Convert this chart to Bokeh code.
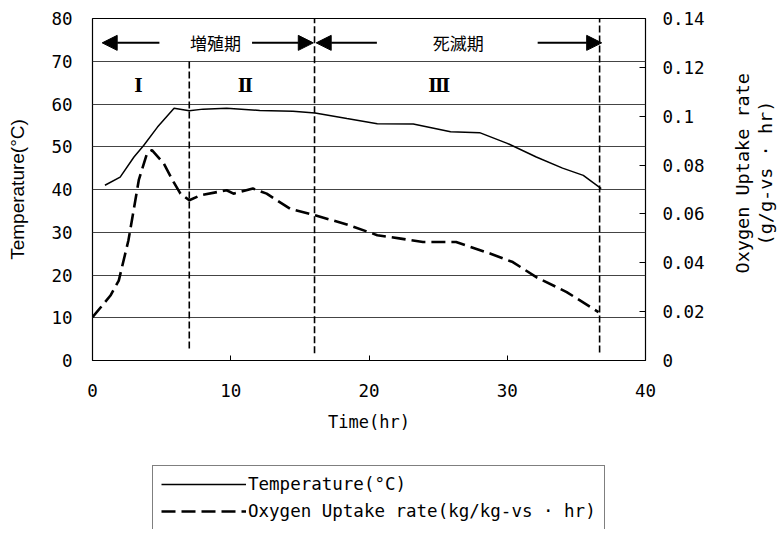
from bokeh.plotting import figure
from bokeh.layouts import column, row
from bokeh.models import (Range1d, LinearAxis, FixedTicker, CustomJSTickFormatter,
                          Arrow, NormalHead, Legend, LegendItem, Title)
from bokeh.core.properties import value
from bokeh.embed import file_html
from bokeh.resources import INLINE

# ---------------- data ----------------
time_temp = [0.9, 2.0, 3.0, 3.7, 4.7, 5.9, 7.0, 8.0, 9.7, 12.1, 14.5, 16.1, 18.4,
             20.6, 23.2, 25.9, 28.0, 30.0, 32.1, 34.0, 35.5, 36.8]
temperature = [41.0, 42.9, 47.6, 50.3, 54.6, 59.0, 58.4, 58.8, 59.0, 58.5, 58.3, 57.9,
               56.6, 55.4, 55.3, 53.5, 53.3, 50.8, 47.6, 45.0, 43.3, 40.2]

time_oxy = [0.0, 1.3, 1.9, 2.6, 3.1, 3.35, 3.95, 4.3, 5.15, 5.85, 6.36, 7.0, 7.8, 9.7,
            10.2, 11.6, 12.6, 14.3, 16.1, 18.6, 20.6, 22.3, 23.9, 26.3, 28.75, 30.4,
            32.1, 34.3, 36.6]
oxygen_rate = [0.0177, 0.0266, 0.0327, 0.0492, 0.0656, 0.0739, 0.0849, 0.0861, 0.0807,
               0.0732, 0.0683, 0.0656, 0.0676, 0.0697, 0.0683, 0.0704, 0.0683, 0.0621,
               0.0595, 0.0553, 0.0513, 0.0499, 0.0485, 0.0485, 0.0438, 0.0403, 0.0341,
               0.0280, 0.0198]

phase_x = [7.0, 16.06, 36.68]
phase_top = [70.3, 80.0, 80.0]
phase_bottom = [2.8, 1.7, 1.9]

period_names = ["増殖期", "死滅期"]
period_x = [8.9, 26.45]
period_y = [74.3, 74.3]

arrow_x_start = [4.84, 11.54, 20.57, 32.2]
arrow_x_end = [0.7, 15.97, 16.18, 36.83]
arrow_y = 74.3

stage_names = ["Ⅰ", "Ⅱ", "Ⅲ"]
stage_x = [3.32, 11.05, 25.07]
stage_y = [64.4, 64.4, 64.4]

temp_ticks = [0, 10, 20, 30, 40, 50, 60, 70, 80]
oxy_ticks = [0, 0.02, 0.04, 0.06, 0.08, 0.1, 0.12, 0.14]
time_ticks = [0, 10, 20, 30, 40]

right_title_lines = ["Oxygen Uptake rate", "(g/g-vs · hr)"]
legend_labels = ["Temperature(°C)", "Oxygen Uptake rate(kg/kg-vs · hr)"]

MONO = "DejaVu Sans Mono"

# ---------------- main figure ----------------
p = figure(width=707, height=440, x_range=Range1d(0, 40), y_range=Range1d(0, 80),
           output_backend="svg", toolbar_location=None,
           min_border_left=92, min_border_right=61, min_border_top=18,
           min_border_bottom=80, background_fill_color="white",
           border_fill_color="white")
p.outline_line_color = "black"
p.outline_line_width = 1.2

p.xgrid.visible = False
p.ygrid.ticker = FixedTicker(ticks=temp_ticks)
p.ygrid.grid_line_color = "#444444"
p.ygrid.grid_line_width = 1

# left axis
la = p.yaxis[0]
la.ticker = FixedTicker(ticks=temp_ticks)
la.axis_line_color = None
la.major_tick_in = 0
la.major_tick_out = 0
la.minor_tick_line_color = None
la.major_label_text_font = MONO
la.major_label_text_font_size = "17.5px"
la.major_label_text_color = "black"
la.major_label_standoff = 20
la.axis_label = "Temperature(°C)"
la.axis_label_text_font = "Liberation Sans"
la.axis_label_text_font_style = "normal"
la.axis_label_text_font_size = "19px"
la.axis_label_text_color = "black"
la.axis_label_standoff = 20

# bottom axis
ba = p.xaxis[0]
ba.ticker = FixedTicker(ticks=time_ticks)
ba.axis_line_color = None
ba.major_tick_in = 5
ba.major_tick_out = 0
ba.major_tick_line_color = "black"
ba.minor_tick_line_color = None
ba.major_label_text_font = MONO
ba.major_label_text_font_size = "17.5px"
ba.major_label_text_color = "black"
ba.major_label_standoff = 23
ba.axis_label = "Time(hr)"
ba.axis_label_text_font = MONO
ba.axis_label_text_font_style = "normal"
ba.axis_label_text_font_size = "17px"
ba.axis_label_text_color = "black"
ba.axis_label_standoff = 12

# right axis (ticks and tick labels)
p.extra_y_ranges = {"oxy": Range1d(0, 0.14)}
ra = LinearAxis(y_range_name="oxy", ticker=FixedTicker(ticks=oxy_ticks))
ra.formatter = CustomJSTickFormatter(
    code=r"var s = tick.toFixed(2); if (s.indexOf('.') >= 0) { s = s.replace(/0+$/, ''); s = s.replace(/\.$/, ''); } return s;")
ra.axis_line_color = None
ra.major_tick_in = 6
ra.major_tick_out = 0
ra.major_tick_line_color = "black"
ra.minor_tick_line_color = None
ra.major_label_text_font = MONO
ra.major_label_text_font_size = "17.5px"
ra.major_label_text_color = "black"
ra.major_label_standoff = 17
p.add_layout(ra, "right")

# ---------------- glyphs ----------------
r_temp = p.line(time_temp, temperature, line_color="black", line_width=1.5)
r_oxy = p.line(time_oxy, oxygen_rate, y_range_name="oxy", line_color="black",
               line_width=2.6, line_dash="14 6")

p.segment(x0=phase_x, y0=phase_bottom, x1=phase_x, y1=phase_top,
          line_color="black", line_width=1.6, line_dash="7 3")

for xs, xe in zip(arrow_x_start, arrow_x_end):
    p.add_layout(Arrow(end=NormalHead(size=15, fill_color="black", line_color="black"),
                       x_start=xs, y_start=arrow_y, x_end=xe, y_end=arrow_y,
                       line_color="black", line_width=2))

p.text(x=period_x, y=period_y, text=period_names, text_font=value("Noto Sans CJK JP"),
       text_font_size="17px", text_align="center", text_baseline="middle",
       text_color="black")
p.text(x=stage_x, y=stage_y, text=stage_names, text_font=value("DejaVu Serif"),
       text_font_size="18px", text_font_style="bold", text_align="center",
       text_baseline="middle", text_color="black")

# ---------------- right-hand title strip ----------------
r = figure(width=74, height=440, output_backend="svg", toolbar_location=None,
           x_axis_type=None, y_axis_type=None, x_range=Range1d(0, 1), y_range=Range1d(0, 1),
           min_border_left=68, min_border_right=0, min_border_top=18,
           min_border_bottom=80, background_fill_color="white",
           border_fill_color="white")
r.outline_line_color = None
r.grid.visible = False
for line_text, off in reversed(list(zip(right_title_lines, [87, 115]))):
    r.add_layout(Title(text=line_text, align="left", standoff=0, offset=off,
                       text_font=MONO, text_font_size="18.5px",
                       text_font_style="normal", text_color="black"), "left")

# ---------------- legend strip ----------------
q = figure(width=781, height=89, x_range=Range1d(0, 1), y_range=Range1d(200, 201),
           output_backend="svg", toolbar_location=None,
           x_axis_type=None, y_axis_type=None, min_border_left=92,
           min_border_right=0, min_border_top=0, min_border_bottom=0,
           background_fill_color="white", border_fill_color="white")
q.outline_line_color = None
q.grid.visible = False
# legend samples (their data lies outside this strip's ranges; only the legend shows)
lg_temp = q.line(time_temp, temperature, line_color="black", line_width=1.5)
lg_oxy = q.line(time_oxy, oxygen_rate, line_color="black", line_width=2.6, line_dash="14 6")

legend = Legend(items=[LegendItem(label=legend_labels[0], renderers=[lg_temp]),
                       LegendItem(label=legend_labels[1], renderers=[lg_oxy])],
                location=(60, -1))
legend.label_text_font = MONO
legend.label_text_font_size = "17.5px"
legend.label_text_color = "black"
legend.border_line_color = "black"
legend.border_line_width = 1
legend.background_fill_color = "white"
legend.background_fill_alpha = 1
legend.padding = 8
legend.spacing = 7
legend.margin = 0
legend.glyph_width = 85
legend.glyph_height = 20
legend.label_height = 20
legend.label_standoff = 2
q.add_layout(legend)

layout = column(row(p, r, spacing=0), q, spacing=0)
open("out.html", "w").write(file_html(layout, INLINE))
